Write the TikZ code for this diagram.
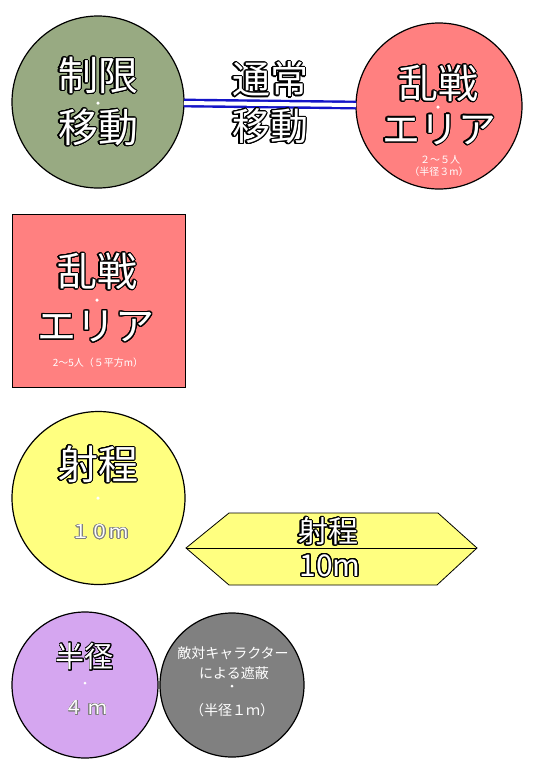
\documentclass[tikz,border=0pt]{standalone}
\usepackage{fontspec}
\setmainfont{Noto Sans CJK JP}
\usepackage{contour}
\contournumber{24}
\definecolor{cgreen}{RGB}{152,170,130}
\definecolor{csalmon}{RGB}{255,128,128}
\definecolor{cyellow}{RGB}{255,255,128}
\definecolor{cpurple}{RGB}{213,166,240}
\definecolor{cgray}{RGB}{128,128,128}
\definecolor{cblue}{RGB}{20,20,200}
\newcommand{\olt}[2]{\contourlength{#1}\contour{black}{#2}}
\newcommand{\golt}[2]{\contourlength{#1}\contour{gray}{#2}}
\begin{document}
\begin{tikzpicture}[x=1pt,y=-1pt,
  shapebox/.style={draw=black,line width=1.2pt,inner sep=0pt,outer sep=0pt},
  circ/.style={shapebox,circle,minimum size=#1},
  lbl/.style={inner sep=0pt,text=white,font=\fontsize{#1}{#1}\selectfont},
  sm/.style={inner sep=0pt,text=white,font=\fontsize{#1}{#1}\selectfont},
  dotw/.style={circle,fill=white,inner sep=0pt,minimum size=3.5pt}]
\useasboundingbox (0,0) rectangle (539,772);
\fill[white] (0,0) rectangle (539,772);

% top row
\node[circ=172pt,fill=cgreen] (c1) at (98,102) {};
\node[circ=166pt,fill=csalmon] (c2) at (439,106) {};
\draw[cblue,line width=2.4pt,double=white,double distance=4pt] (c1) -- (c2);

\node[lbl=40] (t1a) at (98,76) {\olt{1.1pt}{制限}};
\node[dotw] (d1) at (98,103) {};
\node[lbl=40] (t1b) at (98,128) {\olt{1.1pt}{移動}};

\node[lbl=38] (tma) at (270,80) {\olt{1.1pt}{通常}};
\node[lbl=38] (tmb) at (270,127) {\olt{1.1pt}{移動}};

\node[lbl=40] (t2a) at (438,84) {\olt{1.1pt}{乱戦}};
\node[dotw] (d2) at (438,107) {};
\node[lbl=38] (t2b) at (439,130) {\olt{1.1pt}{エリア}};
\node[sm=10] (t2c) at (440,160) {２～５人};
\node[sm=10] (t2d) at (439,172) {（半径３m）};

% square
\node[shapebox,fill=csalmon,minimum width=173pt,minimum height=173pt,line width=1pt] (sq) at (98.5,300.5) {};
\node[lbl=40] (s1) at (97,272) {\olt{1.1pt}{乱戦}};
\node[dotw] (sd) at (97,300) {};
\node[lbl=39] (s2) at (96,327) {\olt{1.1pt}{エリア}};
\node[sm=10] (s3) at (98,363) {2～5人（５平方m）};

% yellow circle
\node[circ=173pt,fill=cyellow] (c3) at (98.5,498) {};
\node[lbl=40] (y1) at (98,465) {\olt{1.1pt}{射程}};
\node[dotw] (yd) at (98,498) {};
\node[lbl=19] (y2) at (100,532) {\golt{0.6pt}{１０ｍ}};

% hexagon
\coordinate (hL) at (186,548);
\coordinate (hR) at (477,548);
\draw[line width=0.8pt,fill=cyellow] (hL) -- (229,513) -- (438,513) -- (hR) -- (437,585) -- (229,585) -- cycle;
\draw[line width=0.8pt] (hL) -- (hR);
\node[lbl=30] (h1) at (328,532) {\olt{1.1pt}{射程}};
\node[lbl=30] (h2) at (330,566) {\olt{1.1pt}{10m}};

% bottom
\node[circ=146pt,fill=cpurple] (c4) at (85,685) {};
\node[circ=144pt,fill=cgray] (c5) at (232,685) {};
\node[lbl=29] (p1) at (85,657) {\olt{0.8pt}{半径}};
\node[dotw,minimum size=3pt] (pd) at (85,683) {};
\node[lbl=19] (p2) at (86,708) {\golt{0.5pt}{４ ｍ}};

\node[lbl=14] (g1) at (233,653) {\golt{0.4pt}{敵対キャラクター}};
\node[lbl=14] (g2) at (234,673) {\golt{0.4pt}{による遮蔽}};
\node[dotw,minimum size=3pt] (gd) at (232,686) {};
\node[lbl=14] (g3) at (232,710) {\golt{0.4pt}{（半径１ｍ）}};
\end{tikzpicture}
\end{document}
